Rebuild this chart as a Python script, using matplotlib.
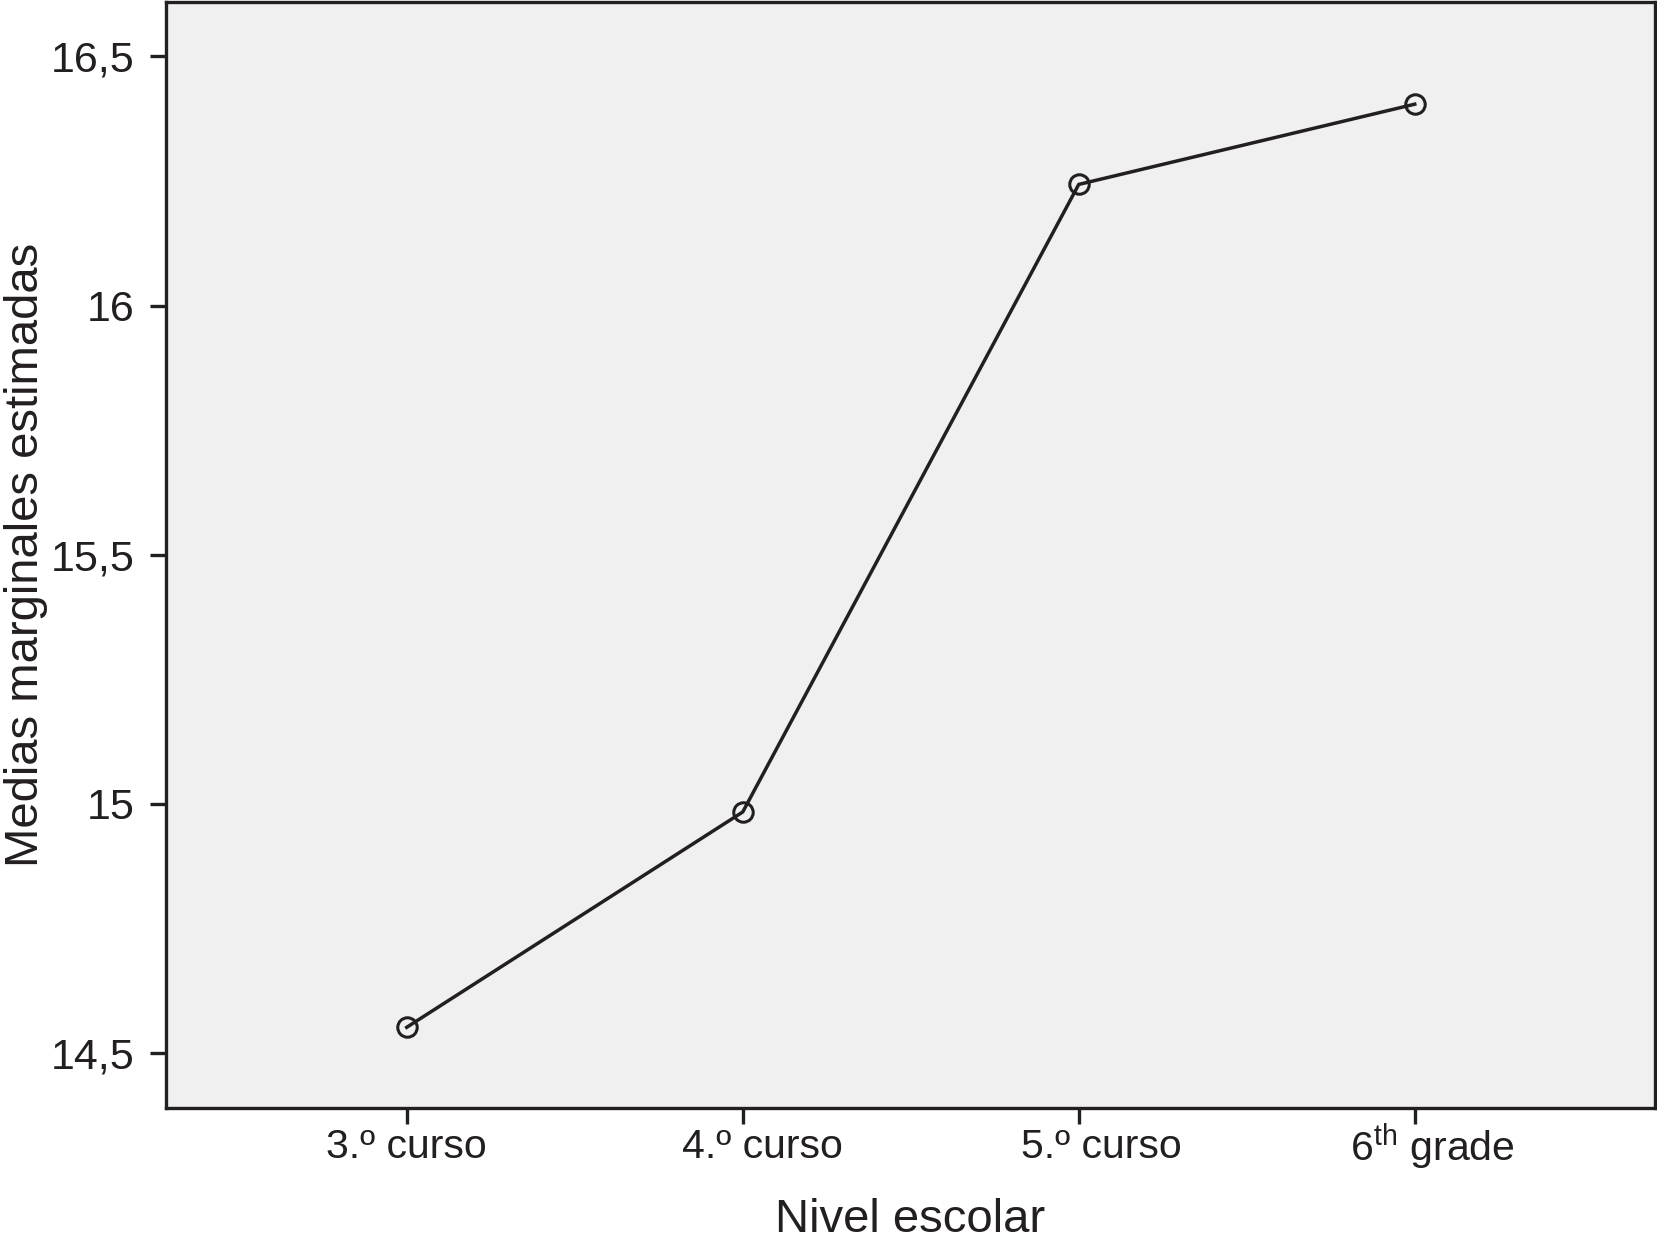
import matplotlib
matplotlib.use("Agg")
import matplotlib.pyplot as plt
from matplotlib.transforms import ScaledTranslation

plt.rcParams["font.family"] = ["Liberation Sans", "DejaVu Sans"]
plt.rcParams["mathtext.fontset"] = "custom"
plt.rcParams["mathtext.rm"] = "Liberation Sans"

# ── Data ─────────────────────────────────────────────────────────────────────
categories = ["3.º curso", "4.º curso", "5.º curso", "6$^{\\mathrm{th}}$ grade"]
means = [14.552, 14.984, 16.243, 16.404]
y_ticks = [14.5, 15.0, 15.5, 16.0, 16.5]
y_tick_labels = ["14,5", "15", "15,5", "16", "16,5"]

INK = "#231f20"

fig = plt.figure(figsize=(16.58, 12.45), dpi=100)
ax = fig.add_axes([0.100, 0.110, 0.898, 0.888])
ax.set_facecolor("#f0f0f0")

x = list(range(len(categories)))
ax.plot(x, means, color=INK, linewidth=2.5, marker="o", markersize=14,
        markerfacecolor="none", markeredgecolor=INK, markeredgewidth=2.2)

ax.set_xlim(-0.717, 3.714)
ax.set_ylim(14.39, 16.608)
ax.set_xticks(x)
ax.set_xticklabels(categories)
ax.set_yticks(y_ticks)
ax.set_yticklabels(y_tick_labels)

for s in ["top", "right", "left", "bottom"]:
    ax.spines[s].set_color(INK)
    ax.spines[s].set_linewidth(2.4)

ax.tick_params(axis="both", colors=INK, labelcolor=INK, length=11.5, width=2.4)
ax.tick_params(axis="x", pad=3, labelsize=29.5)
ax.tick_params(axis="y", pad=11, labelsize=31)

# SPSS nudges the category labels a little to the right
shifts = [(0, 0), (14, 0), (16, 0), (13, 5)]
for lbl, (dx, dy) in zip(ax.get_xticklabels(), shifts):
    lbl.set_transform(lbl.get_transform() +
                      ScaledTranslation(dx / 72, dy / 72, fig.dpi_scale_trans))

ax.set_xlabel("Nivel escolar", fontsize=34, color=INK, labelpad=19)
ax.set_ylabel("Medias marginales estimadas", fontsize=34, color=INK)
ax.yaxis.set_label_coords(-0.079, 0.5)

fig.savefig("out.png", dpi=100)
